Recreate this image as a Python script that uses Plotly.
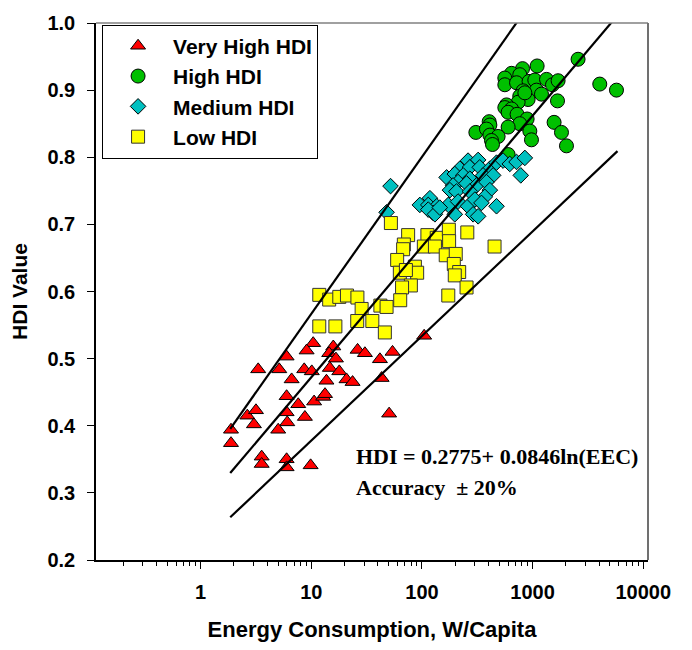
import plotly.graph_objects as go
import numpy as np

# ---- data ----
very_high_x = [10.4, 9.07, 15.8, 14.5, 5.98, 16.7, 26.2, 30.5, 54.2, 41.7, 104.7, 3.31, 5.13, 8.63, 10.1,
               14.7, 17.9, 6.64, 13.7, 20.8, 23.6, 43.2, 5.98, 7.62, 10.6, 12.8, 13.3, 2.64, 3.16, 3.03,
               5.98, 6.06, 8.75, 5.02, 50.5, 1.88, 1.88, 3.56, 3.56, 5.98, 5.98, 9.86]
very_high_y = [0.523, 0.512, 0.518, 0.508, 0.503, 0.500, 0.513, 0.508, 0.510, 0.499, 0.534, 0.484, 0.484, 0.484, 0.481,
               0.486, 0.481, 0.469, 0.467, 0.469, 0.465, 0.471, 0.444, 0.432, 0.436, 0.443, 0.447, 0.415, 0.423, 0.402,
               0.420, 0.405, 0.413, 0.394, 0.418, 0.394, 0.374, 0.354, 0.343, 0.350, 0.338, 0.341]

high_x = [2576, 1099, 4047, 5728, 811, 645, 561, 766, 561, 716, 929, 1047, 1336, 1513, 1700,
          1085, 1203, 821, 766, 911, 740, 581, 1679, 561, 645, 601, 724, 892, 766, 601,
          405, 411, 307, 383, 411, 488, 425, 434, 944, 977, 1564, 1824, 2024, 601, 851]
high_y = [0.946, 0.936, 0.909, 0.900, 0.932, 0.925, 0.918, 0.923, 0.908, 0.911, 0.913, 0.915, 0.916, 0.908, 0.914,
          0.900, 0.894, 0.899, 0.891, 0.886, 0.882, 0.878, 0.884, 0.874, 0.872, 0.867, 0.864, 0.857, 0.850, 0.845,
          0.853, 0.848, 0.837, 0.842, 0.833, 0.831, 0.825, 0.819, 0.839, 0.826, 0.852, 0.837, 0.817, 0.804, 0.896]

medium_x = [52.0, 47.9, 261, 322, 220, 271, 333, 411, 472, 541, 622, 716, 851, 782, 167,
            198, 236, 271, 357, 440, 212, 191, 253, 311, 383, 179, 205, 271, 411, 370,
            118, 95.7, 114, 136, 173, 126, 212, 261, 301, 345, 472, 198, 290, 322, 114, 131, 145]
medium_y = [0.757, 0.718, 0.795, 0.796, 0.783, 0.785, 0.785, 0.783, 0.792, 0.795, 0.790, 0.793, 0.799, 0.773, 0.770,
            0.775, 0.773, 0.768, 0.773, 0.773, 0.763, 0.758, 0.761, 0.758, 0.763, 0.751, 0.749, 0.749, 0.751, 0.741,
            0.739, 0.729, 0.729, 0.727, 0.729, 0.717, 0.734, 0.727, 0.737, 0.732, 0.727, 0.715, 0.715, 0.712, 0.722, 0.715, 0.725]

low_x = [52.4, 75.0, 112, 136, 175, 176, 257, 68.6, 67.6, 104, 131, 164, 202, 59.7, 86.3,
         90.5, 63.1, 71.6, 194, 217, 198, 79.4, 66.1, 253, 173, 63.6, 453, 11.8, 14.5, 17.9,
         21.0, 26.1, 42.1, 47.9, 28.5, 26.0, 35.6, 46.2, 11.8, 16.5]
low_y = [0.702, 0.684, 0.684, 0.680, 0.692, 0.675, 0.688, 0.670, 0.663, 0.667, 0.667, 0.654, 0.656, 0.647, 0.637,
         0.628, 0.628, 0.632, 0.641, 0.629, 0.624, 0.609, 0.606, 0.606, 0.594, 0.587, 0.667, 0.595, 0.588, 0.592,
         0.594, 0.591, 0.579, 0.577, 0.574, 0.556, 0.556, 0.539, 0.548, 0.548]

# regression HDI = a + b ln(EEC), accuracy +/-20%
fit_a = 0.2775
fit_b = 0.0846
accuracy = 0.20
fit_x_range = [1.85, 5850]

x_ticks = [1, 10, 100, 1000, 10000]
x_tick_text = ["1", "10", "100", "1000", "10000"]
y_ticks = [0.2, 0.3, 0.4, 0.5, 0.6, 0.7, 0.8, 0.9, 1.0]

fit_x = np.array(fit_x_range)
fit_mid = fit_a + fit_b * np.log(fit_x)

minor_vals = [k * 10.0 ** e for e in range(-1, 4) for k in range(2, 10)]

fig = go.Figure()

mk_line = dict(color="black", width=1)
fig.add_trace(go.Scatter(x=very_high_x, y=very_high_y, mode="markers", name="Very High HDI",
                         marker=dict(symbol="triangle-up", size=13, color="#FF0000", line=mk_line)))
fig.add_trace(go.Scatter(x=high_x, y=high_y, mode="markers", name="High HDI",
                         marker=dict(symbol="circle", size=14, color="#00C000", line=mk_line)))
fig.add_trace(go.Scatter(x=medium_x, y=medium_y, mode="markers", name="Medium HDI",
                         marker=dict(symbol="diamond", size=12, color="#00C0C0", line=mk_line)))
fig.add_trace(go.Scatter(x=low_x, y=low_y, mode="markers", name="Low HDI",
                         marker=dict(symbol="square", size=13, color="#FFFF00", line=dict(color="#333333", width=1))))

for factor in (1 + accuracy, 1.0, 1 - accuracy):
    fig.add_trace(go.Scatter(x=fit_x, y=fit_mid * factor, mode="lines", showlegend=False,
                             line=dict(color="black", width=2.2), hoverinfo="skip"))

font_bold = "Liberation Sans, Arial, sans-serif"

fig.update_layout(
    width=692, height=650,
    margin=dict(l=96, r=44, t=13, b=85),
    paper_bgcolor="white", plot_bgcolor="white",
    font=dict(family=font_bold, size=20, color="black"),
    showlegend=True,
    legend=dict(x=0.011, y=0.997, xanchor="left", yanchor="top",
                bordercolor="black", borderwidth=1, bgcolor="white",
                font=dict(family=font_bold, size=21, color="black", weight="bold"),
                itemwidth=60, tracegroupgap=0),
    xaxis=dict(type="log", range=[-0.946, 4.043],
               tickmode="array", tickvals=x_ticks, ticktext=x_tick_text,
               ticks="outside", ticklen=7, tickwidth=1, tickcolor="black",
               showline=True, linecolor="black", linewidth=1.5, mirror=False,
               showgrid=False, zeroline=False,
               tickfont=dict(family=font_bold, size=20, weight="bold"),
               ticklabelstandoff=6,
               minor=dict(tickvals=minor_vals, ticks="outside", ticklen=4, tickcolor="black", showgrid=False),
               title=dict(text="Energy Consumption, W/Capita",
                          font=dict(family=font_bold, size=22, weight="bold"), standoff=20)),
    yaxis=dict(range=[0.2, 1.0], tickmode="array", tickvals=y_ticks, tickformat=".1f",
               ticks="outside", ticklen=7, tickwidth=1, tickcolor="black",
               showline=True, linecolor="black", linewidth=1.5, mirror=False,
               showgrid=False, zeroline=False,
               tickfont=dict(family=font_bold, size=20, weight="bold"),
               ticklabelstandoff=8,
               title=dict(text="HDI Value",
                          font=dict(family=font_bold, size=21, weight="bold"), standoff=14)),
    shapes=[
        dict(type="line", xref="paper", yref="paper", x0=0, x1=1, y0=1, y1=1,
             line=dict(color="#808080", width=1.5)),
        dict(type="line", xref="paper", yref="paper", x0=1, x1=1, y0=0, y1=1,
             line=dict(color="#707070", width=2)),
    ],
    annotations=[
        dict(text="<b>HDI = 0.2775+ 0.0846ln(EEC)</b>", xref="paper", yref="paper",
             x=0.467, y=0.1926, xanchor="left", yanchor="middle", showarrow=False,
             font=dict(family="Liberation Serif, Times New Roman, serif", size=22, color="black")),
        dict(text="<b>Accuracy  ± 20%</b>", xref="paper", yref="paper",
             x=0.467, y=0.1346, xanchor="left", yanchor="middle", showarrow=False,
             font=dict(family="Liberation Serif, Times New Roman, serif", size=22, color="black")),
    ],
)

fig.write_html("out.html")
